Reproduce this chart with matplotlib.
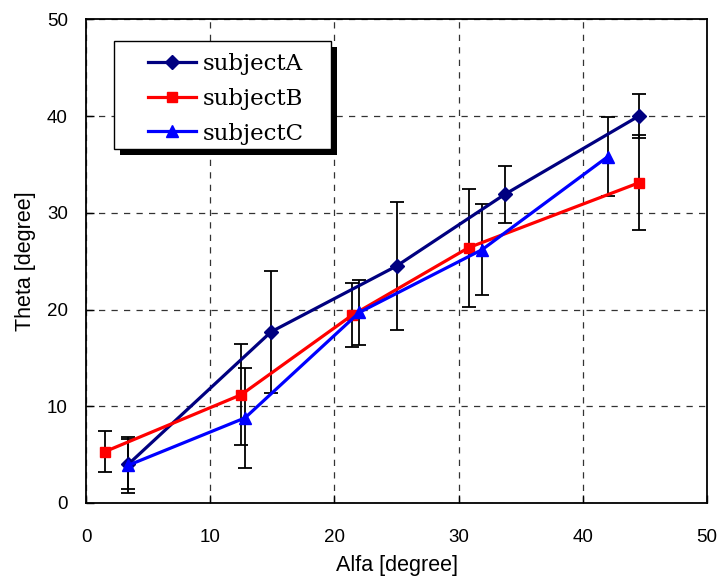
import numpy as np
import matplotlib.pyplot as plt
from matplotlib.patches import Rectangle

# data
xA = [3.4, 14.9, 25.0, 33.7, 44.5]
yA = [4.0, 17.7, 24.5, 31.9, 40.0]
eA = [2.6, 6.3, 6.6, 2.9, 2.3]

xB = [1.5, 12.5, 21.4, 30.8, 44.5]
yB = [5.3, 11.2, 19.4, 26.4, 33.1]
eB = [2.1, 5.2, 3.3, 6.1, 4.9]

xC = [3.4, 12.8, 22.0, 31.9, 42.0]
yC = [3.9, 8.8, 19.7, 26.2, 35.8]
eC = [2.9, 5.2, 3.4, 4.7, 4.1]

fig = plt.figure(figsize=(7.17, 5.84), dpi=100)
ax = fig.add_axes([0.12, 0.1387, 0.866, 0.828])
lw = 2.3

for x, y, e in [(xA, yA, eA), (xB, yB, eB), (xC, yC, eC)]:
    ax.errorbar(x, y, yerr=e, fmt='none', ecolor='k', elinewidth=1.3,
                capsize=5, capthick=1.3, zorder=2)

ax.plot(xA, yA, color='#000080', lw=lw, marker='D', ms=7, label='subjectA', zorder=3)
ax.plot(xB, yB, color='#ff0000', lw=lw, marker='s', ms=7.5, label='subjectB', zorder=3)
ax.plot(xC, yC, color='#0000ff', lw=lw, marker='^', ms=9, label='subjectC', zorder=3)

ax.set_xlim(0, 50)
ax.set_ylim(0, 50)
ax.set_xticks(np.arange(0, 51, 10))
ax.set_yticks(np.arange(0, 51, 10))
ax.grid(True, color='#333333', ls=(0, (5, 5)), lw=0.9)
ax.tick_params(direction='in', length=6, width=1, labelsize=13.5)
ax.tick_params(axis='x', pad=19)
ax.tick_params(axis='y', pad=13)
for lab in ax.get_xticklabels() + ax.get_yticklabels():
    lab.set_family('Liberation Sans')
for s in ax.spines.values():
    s.set_linewidth(1.3)

ax.set_xlabel('Alfa [degree]', fontsize=15.5, family='Liberation Sans', labelpad=6)
ax.set_ylabel('Theta [degree]', fontsize=15.5, family='Liberation Sans', labelpad=8)

# legend box with a hard black shadow
ax.add_patch(Rectangle((0.0545, 0.72), 0.3495, 0.2235, transform=ax.transAxes,
                       facecolor='k', edgecolor='none', zorder=5))
ax.add_patch(Rectangle((0.045, 0.732), 0.3495, 0.2235, transform=ax.transAxes,
                       facecolor='white', edgecolor='k', lw=1.0, zorder=5.5))
leg = ax.legend(loc='upper left', bbox_to_anchor=(0.1, 0.93), borderaxespad=0,
                borderpad=0, frameon=False,
                prop={'family': 'DejaVu Serif', 'size': 16.5}, handlelength=2.1,
                handletextpad=0.3, labelspacing=0.55)
leg.set_zorder(6)

fig.savefig('out.png', dpi=100)
